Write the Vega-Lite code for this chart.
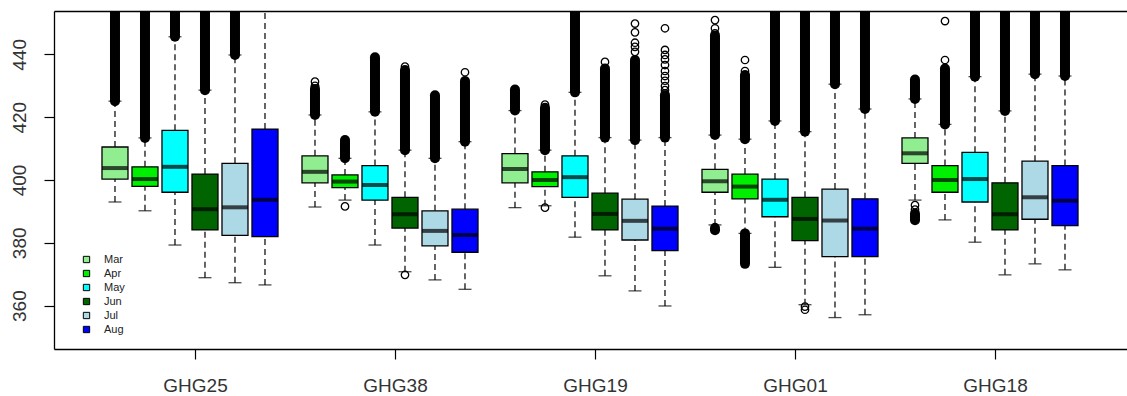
{
  "$schema": "https://vega.github.io/schema/vega-lite/v6.json",
  "width": 1073,
  "height": 338,
  "autosize": "none",
  "padding": {"left": 54, "top": 11, "right": 0, "bottom": 47},
  "background": "white",
  "config": {
    "view": {"stroke": null},
    "font": "Liberation Sans"
  },
  "datasets": {
    "boxes": [
      {"site": "GHG25", "month": "Mar", "lo": 393.0, "q1": 400.3, "med": 403.8, "q3": 410.5, "hi": 425.1},
      {"site": "GHG25", "month": "Apr", "lo": 390.2, "q1": 398.0, "med": 400.3, "q3": 404.2, "hi": 413.4},
      {"site": "GHG25", "month": "May", "lo": 379.3, "q1": 396.1, "med": 404.2, "q3": 415.8, "hi": 445.6},
      {"site": "GHG25", "month": "Jun", "lo": 368.9, "q1": 384.1, "med": 390.7, "q3": 401.9, "hi": 428.6},
      {"site": "GHG25", "month": "Jul", "lo": 367.3, "q1": 382.4, "med": 391.3, "q3": 405.3, "hi": 439.8},
      {"site": "GHG25", "month": "Aug", "lo": 366.6, "q1": 382.0, "med": 393.7, "q3": 416.2, "hi": 470.0},
      {"site": "GHG38", "month": "Mar", "lo": 391.4, "q1": 399.1, "med": 402.6, "q3": 407.7, "hi": 420.7},
      {"site": "GHG38", "month": "Apr", "lo": 393.6, "q1": 397.6, "med": 399.5, "q3": 401.6, "hi": 406.9},
      {"site": "GHG38", "month": "May", "lo": 379.3, "q1": 393.6, "med": 398.4, "q3": 404.6, "hi": 421.7},
      {"site": "GHG38", "month": "Jun", "lo": 370.8, "q1": 384.7, "med": 389.1, "q3": 394.5, "hi": 409.5},
      {"site": "GHG38", "month": "Jul", "lo": 368.2, "q1": 379.0, "med": 383.8, "q3": 390.2, "hi": 406.9},
      {"site": "GHG38", "month": "Aug", "lo": 365.2, "q1": 377.0, "med": 382.5, "q3": 390.7, "hi": 412.2},
      {"site": "GHG19", "month": "Mar", "lo": 391.2, "q1": 399.1, "med": 403.5, "q3": 408.4, "hi": 422.1},
      {"site": "GHG19", "month": "Apr", "lo": 391.8, "q1": 397.9, "med": 400.0, "q3": 402.6, "hi": 409.5},
      {"site": "GHG19", "month": "May", "lo": 381.8, "q1": 394.5, "med": 400.9, "q3": 407.7, "hi": 427.9},
      {"site": "GHG19", "month": "Jun", "lo": 369.5, "q1": 384.1, "med": 389.2, "q3": 395.8, "hi": 413.5},
      {"site": "GHG19", "month": "Jul", "lo": 364.7, "q1": 380.9, "med": 387.0, "q3": 393.9, "hi": 412.7},
      {"site": "GHG19", "month": "Aug", "lo": 359.9, "q1": 377.5, "med": 384.5, "q3": 391.7, "hi": 413.5},
      {"site": "GHG01", "month": "Mar", "lo": 385.7, "q1": 396.1, "med": 399.6, "q3": 403.4, "hi": 414.3},
      {"site": "GHG01", "month": "Apr", "lo": 383.0, "q1": 394.0, "med": 397.9, "q3": 401.9, "hi": 413.0},
      {"site": "GHG01", "month": "May", "lo": 372.2, "q1": 388.3, "med": 393.7, "q3": 400.3, "hi": 418.8},
      {"site": "GHG01", "month": "Jun", "lo": 360.3, "q1": 380.7, "med": 387.6, "q3": 394.5, "hi": 415.4},
      {"site": "GHG01", "month": "Jul", "lo": 356.2, "q1": 375.6, "med": 387.1, "q3": 397.1, "hi": 430.5},
      {"site": "GHG01", "month": "Aug", "lo": 357.1, "q1": 375.6, "med": 384.5, "q3": 394.0, "hi": 422.6},
      {"site": "GHG18", "month": "Mar", "lo": 393.6, "q1": 405.3, "med": 408.5, "q3": 413.4, "hi": 425.8},
      {"site": "GHG18", "month": "Apr", "lo": 387.3, "q1": 396.1, "med": 400.0, "q3": 404.6, "hi": 417.7},
      {"site": "GHG18", "month": "May", "lo": 380.2, "q1": 393.0, "med": 400.3, "q3": 408.8, "hi": 432.9},
      {"site": "GHG18", "month": "Jun", "lo": 369.8, "q1": 384.1, "med": 389.1, "q3": 399.1, "hi": 422.0},
      {"site": "GHG18", "month": "Jul", "lo": 373.3, "q1": 387.5, "med": 394.5, "q3": 406.0, "hi": 433.7},
      {"site": "GHG18", "month": "Aug", "lo": 371.4, "q1": 385.5, "med": 393.4, "q3": 404.6, "hi": 433.1}
    ],
    "bands": [
      {"site": "GHG25", "month": "Mar", "from": 425.1, "to": 470},
      {"site": "GHG25", "month": "Apr", "from": 413.4, "to": 470},
      {"site": "GHG25", "month": "May", "from": 445.6, "to": 470},
      {"site": "GHG25", "month": "Jun", "from": 428.6, "to": 470},
      {"site": "GHG25", "month": "Jul", "from": 439.8, "to": 470},
      {"site": "GHG38", "month": "Mar", "from": 420.7, "to": 429.0},
      {"site": "GHG38", "month": "Apr", "from": 406.9, "to": 412.7},
      {"site": "GHG38", "month": "May", "from": 421.7, "to": 439.1},
      {"site": "GHG38", "month": "Jun", "from": 409.5, "to": 435.0},
      {"site": "GHG38", "month": "Jul", "from": 406.9, "to": 427.0},
      {"site": "GHG38", "month": "Aug", "from": 412.2, "to": 431.5},
      {"site": "GHG19", "month": "Mar", "from": 422.1, "to": 428.8},
      {"site": "GHG19", "month": "Apr", "from": 409.5, "to": 423.0},
      {"site": "GHG19", "month": "May", "from": 427.9, "to": 470},
      {"site": "GHG19", "month": "Jun", "from": 413.5, "to": 435.5},
      {"site": "GHG19", "month": "Jul", "from": 412.7, "to": 438.2},
      {"site": "GHG19", "month": "Aug", "from": 413.5, "to": 427.0},
      {"site": "GHG01", "month": "Mar", "from": 414.3, "to": 446.0},
      {"site": "GHG01", "month": "Apr", "from": 413.0, "to": 433.4},
      {"site": "GHG01", "month": "May", "from": 418.8, "to": 470},
      {"site": "GHG01", "month": "Jun", "from": 415.4, "to": 470},
      {"site": "GHG01", "month": "Jul", "from": 430.5, "to": 470},
      {"site": "GHG01", "month": "Aug", "from": 422.6, "to": 470},
      {"site": "GHG18", "month": "Mar", "from": 425.8, "to": 432.0},
      {"site": "GHG18", "month": "Apr", "from": 417.7, "to": 435.5},
      {"site": "GHG18", "month": "May", "from": 432.9, "to": 470},
      {"site": "GHG18", "month": "Jun", "from": 422.0, "to": 470},
      {"site": "GHG18", "month": "Jul", "from": 433.7, "to": 470},
      {"site": "GHG18", "month": "Aug", "from": 433.1, "to": 470},
      {"site": "GHG01", "month": "Apr", "from": 383.0, "to": 373.3},
      {"site": "GHG01", "month": "Mar", "from": 384.6, "to": 384.0},
      {"site": "GHG18", "month": "Mar", "from": 389.3, "to": 387.2}
    ],
    "points": [
      {"site": "GHG38", "month": "Mar", "value": 431.3},
      {"site": "GHG38", "month": "Mar", "value": 430.0},
      {"site": "GHG38", "month": "Apr", "value": 391.6},
      {"site": "GHG38", "month": "Jun", "value": 436.1},
      {"site": "GHG38", "month": "Jun", "value": 369.8},
      {"site": "GHG38", "month": "Aug", "value": 434.3},
      {"site": "GHG19", "month": "Apr", "value": 424.0},
      {"site": "GHG19", "month": "Apr", "value": 391.2},
      {"site": "GHG19", "month": "Jun", "value": 437.6},
      {"site": "GHG19", "month": "Jul", "value": 449.8},
      {"site": "GHG19", "month": "Jul", "value": 447.0},
      {"site": "GHG19", "month": "Jul", "value": 443.7},
      {"site": "GHG19", "month": "Jul", "value": 442.4},
      {"site": "GHG19", "month": "Jul", "value": 440.8},
      {"site": "GHG19", "month": "Aug", "value": 448.3},
      {"site": "GHG19", "month": "Aug", "value": 441.4},
      {"site": "GHG19", "month": "Aug", "value": 439.8},
      {"site": "GHG19", "month": "Aug", "value": 438.4},
      {"site": "GHG19", "month": "Aug", "value": 436.6},
      {"site": "GHG19", "month": "Aug", "value": 434.7},
      {"site": "GHG19", "month": "Aug", "value": 433.1},
      {"site": "GHG19", "month": "Aug", "value": 431.6},
      {"site": "GHG19", "month": "Aug", "value": 429.9},
      {"site": "GHG19", "month": "Aug", "value": 428.6},
      {"site": "GHG19", "month": "Aug", "value": 427.6},
      {"site": "GHG01", "month": "Mar", "value": 450.9},
      {"site": "GHG01", "month": "Mar", "value": 448.3},
      {"site": "GHG01", "month": "Mar", "value": 446.7},
      {"site": "GHG01", "month": "Mar", "value": 385.0},
      {"site": "GHG01", "month": "Mar", "value": 384.3},
      {"site": "GHG01", "month": "Apr", "value": 438.2},
      {"site": "GHG01", "month": "Apr", "value": 434.7},
      {"site": "GHG01", "month": "Jun", "value": 359.7},
      {"site": "GHG01", "month": "Jun", "value": 358.7},
      {"site": "GHG18", "month": "Mar", "value": 392.0},
      {"site": "GHG18", "month": "Mar", "value": 390.6},
      {"site": "GHG18", "month": "Apr", "value": 450.6},
      {"site": "GHG18", "month": "Apr", "value": 438.2}
    ]
  },
  "resolve": {"axis": {"x": "independent"}},
  "layer": [
    {
      "data": {"name": "boxes"},
      "mark": {"type": "rule", "color": "black", "strokeWidth": 1.2, "strokeDash": [6, 4]},
      "encoding": {
        "x": {"field": "site", "type": "nominal", "sort": ["GHG25", "GHG38", "GHG19", "GHG01", "GHG18"],
              "scale": {"paddingInner": 0, "paddingOuter": 0.1825, "align": 0.493},
              "axis": {"orient": "top", "labels": false, "ticks": false, "domain": true, "domainColor": "black", "domainWidth": 1.3, "title": null}},
        "xOffset": {"field": "month", "type": "nominal", "sort": ["Mar", "Apr", "May", "Jun", "Jul", "Aug"],
                    "scale": {"paddingInner": 0.1333, "paddingOuter": 0.4}},
        "y": {"field": "lo", "type": "quantitative",
              "scale": {"domain": [346.2, 453.8], "nice": false, "zero": false},
              "axis": {"values": [360, 380, 400, 420, 440], "title": null, "grid": false, "labelAngle": -90,
                       "labelAlign": "center", "labelBaseline": "alphabetic", "labelPadding": 19,
                       "tickSize": 10, "tickColor": "black", "tickWidth": 1.2, "domain": true, "domainColor": "black", "domainWidth": 1.3,
                       "labelFontSize": 19, "labelFont": "Liberation Sans", "labelColor": "#333"}},
        "y2": {"field": "q1"}
      }
    },
    {
      "data": {"name": "boxes"},
      "mark": {"type": "rule", "color": "black", "strokeWidth": 1.2, "strokeDash": [6, 4], "clip": true},
      "encoding": {
        "x": {"field": "site", "type": "nominal", "sort": ["GHG25", "GHG38", "GHG19", "GHG01", "GHG18"],
              "axis": {"orient": "bottom", "title": null, "domain": true, "domainColor": "black", "domainWidth": 1.3,
                       "tickSize": 10, "tickColor": "black", "tickWidth": 1.2, "tickOffset": 5, "labelAngle": 0,
                       "labelBaseline": "alphabetic", "labelPadding": 32, "labelFontSize": 19, "labelFont": "Liberation Sans", "labelColor": "#333"}},
        "xOffset": {"field": "month", "type": "nominal", "sort": ["Mar", "Apr", "May", "Jun", "Jul", "Aug"]},
        "y": {"field": "q3", "type": "quantitative"},
        "y2": {"field": "hi"}
      }
    },
    {
      "data": {"name": "boxes"},
      "mark": {"type": "tick", "color": "black", "size": 13, "thickness": 1.3, "orient": "horizontal"},
      "encoding": {
        "x": {"field": "site", "type": "nominal", "sort": ["GHG25", "GHG38", "GHG19", "GHG01", "GHG18"], "axis": null},
        "xOffset": {"field": "month", "type": "nominal", "sort": ["Mar", "Apr", "May", "Jun", "Jul", "Aug"]},
        "y": {"field": "lo", "type": "quantitative"}
      }
    },
    {
      "data": {"name": "boxes"},
      "mark": {"type": "tick", "color": "black", "size": 13, "thickness": 1.3, "orient": "horizontal", "clip": true},
      "encoding": {
        "x": {"field": "site", "type": "nominal", "sort": ["GHG25", "GHG38", "GHG19", "GHG01", "GHG18"], "axis": null},
        "xOffset": {"field": "month", "type": "nominal", "sort": ["Mar", "Apr", "May", "Jun", "Jul", "Aug"]},
        "y": {"field": "hi", "type": "quantitative"}
      }
    },
    {
      "data": {"name": "bands"},
      "mark": {"type": "rule", "color": "black", "strokeWidth": 10, "strokeCap": "round", "clip": true},
      "encoding": {
        "x": {"field": "site", "type": "nominal", "sort": ["GHG25", "GHG38", "GHG19", "GHG01", "GHG18"], "axis": null},
        "xOffset": {"field": "month", "type": "nominal", "sort": ["Mar", "Apr", "May", "Jun", "Jul", "Aug"]},
        "y": {"field": "from", "type": "quantitative"},
        "y2": {"field": "to"}
      }
    },
    {
      "data": {"name": "boxes"},
      "mark": {"type": "bar", "stroke": "black", "strokeWidth": 1.3, "opacity": 1},
      "encoding": {
        "x": {"field": "site", "type": "nominal", "sort": ["GHG25", "GHG38", "GHG19", "GHG01", "GHG18"], "axis": null},
        "xOffset": {"field": "month", "type": "nominal", "sort": ["Mar", "Apr", "May", "Jun", "Jul", "Aug"]},
        "y": {"field": "q1", "type": "quantitative"},
        "y2": {"field": "q3"},
        "color": {"field": "month", "type": "nominal",
                  "scale": {"domain": ["Mar", "Apr", "May", "Jun", "Jul", "Aug"],
                            "range": ["#90EE90", "#00EE00", "#00FFFF", "#006400", "#ADD8E6", "#0000FF"]},
                  "legend": {"orient": "none", "legendX": 27, "legendY": 243, "title": null, "padding": 0,
                             "symbolType": "square", "symbolSize": 40, "symbolStrokeColor": "black", "symbolStrokeWidth": 1,
                             "labelFontSize": 11, "labelFont": "Liberation Sans", "labelColor": "#222",
                             "rowPadding": 2, "labelOffset": 12}}
      }
    },
    {
      "data": {"name": "boxes"},
      "mark": {"type": "tick", "color": "black", "size": 26, "thickness": 4, "orient": "horizontal"},
      "encoding": {
        "x": {"field": "site", "type": "nominal", "sort": ["GHG25", "GHG38", "GHG19", "GHG01", "GHG18"], "axis": null},
        "xOffset": {"field": "month", "type": "nominal", "sort": ["Mar", "Apr", "May", "Jun", "Jul", "Aug"]},
        "y": {"field": "med", "type": "quantitative"}
      }
    },
    {
      "data": {"name": "points"},
      "mark": {"type": "point", "shape": "circle", "filled": false, "stroke": "black", "strokeWidth": 1.3, "size": 55, "opacity": 1, "clip": true},
      "encoding": {
        "x": {"field": "site", "type": "nominal", "sort": ["GHG25", "GHG38", "GHG19", "GHG01", "GHG18"], "axis": null},
        "xOffset": {"field": "month", "type": "nominal", "sort": ["Mar", "Apr", "May", "Jun", "Jul", "Aug"]},
        "y": {"field": "value", "type": "quantitative"}
      }
    }
  ]
}
